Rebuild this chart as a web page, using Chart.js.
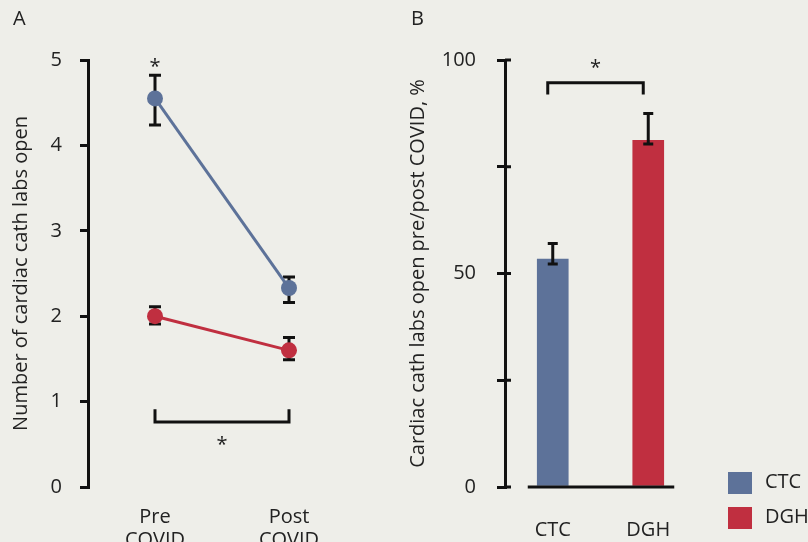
<!DOCTYPE html>
<html>
<head>
<meta charset="utf-8">
<script src="https://cdn.jsdelivr.net/npm/chart.js@4/dist/chart.umd.min.js"></script>
<style>
  html, body { margin: 0; padding: 0; background: #eeeee9; }
  #wrap { position: relative; width: 808px; height: 542px; background: #eeeee9; overflow: hidden;
    font-family: 'Open Sans', sans-serif; color: #222; }
  canvas { position: absolute; top: 0; }
  #chartA { left: 0; }
  #chartB { left: 400px; }
  .panel { position: absolute; font-size: 20px; line-height: 20px; }
  .legend { position: absolute; left: 728px; font-size: 20px; }
  .legend div { position: absolute; left: 0; white-space: nowrap; height: 22px; }
  .legend span.box { position: absolute; left: 0; top: 0; width: 24px; height: 22px; }
  .legend span.lbl { position: absolute; left: 37px; top: -3px; line-height: 24px; }
</style>
</head>
<body>
<div id="wrap">
  <canvas id="chartA" width="400" height="542"></canvas>
  <canvas id="chartB" width="408" height="542"></canvas>
  <div class="panel" style="left:13px;top:8px;">A</div>
  <div class="panel" style="left:411px;top:8px;">B</div>
  <div class="legend" id="legend"></div>
</div>
<script>
const periods = [['Pre', 'COVID'], ['Post', 'COVID']];
const ctcMean = [4.55, 2.33];
const ctcLow = [4.24, 2.16];
const ctcHigh = [4.82, 2.46];
const dghMean = [2.00, 1.60];
const dghLow = [1.91, 1.49];
const dghHigh = [2.11, 1.75];

const hospitals = ['CTC', 'DGH'];
const openPct = [53.4, 81.2];
const openPctLow = [52.2, 80.3];
const openPctHigh = [57.0, 87.5];

const blue = '#5d7299';
const red = '#c02f40';
const ink = '#111111';
const text = '#222222';

Chart.defaults.font.family = "'Open Sans', sans-serif";
Chart.defaults.color = text;

// error bars, drawn behind the points or on top of the bars
const makeErrorBars = (id, ranges, cap, behind) => {
  const draw = (chart) => {
    const { ctx, scales: { x, y } } = chart;
    ctx.save();
    ctx.strokeStyle = ink;
    ctx.lineWidth = 3;
    ranges.forEach((range) => {
      range.low.forEach((lo, i) => {
        const px = x.getPixelForValue(i);
        const y1 = y.getPixelForValue(lo);
        const y2 = y.getPixelForValue(range.high[i]);
        ctx.beginPath();
        ctx.moveTo(px, y1);
        ctx.lineTo(px, y2);
        ctx.moveTo(px - cap, y1);
        ctx.lineTo(px + cap, y1);
        ctx.moveTo(px - cap, y2);
        ctx.lineTo(px + cap, y2);
        ctx.stroke();
      });
    });
    ctx.restore();
  };
  return {
    id,
    beforeDatasetsDraw(chart) { if (behind) draw(chart); },
    afterDatasetsDraw(chart) { if (!behind) draw(chart); }
  };
};

// significance brackets and stars, placed in data units
const makeSignificance = (id, brackets, stars) => ({
  id,
  afterDraw(chart) {
    const { ctx, scales: { x, y } } = chart;
    ctx.save();
    ctx.strokeStyle = ink;
    ctx.lineWidth = 3;
    brackets.forEach((b) => {
      const x1 = x.getPixelForValue(b.from) + (b.shift || 0);
      const x2 = x.getPixelForValue(b.to) + (b.shift || 0);
      const yLeg = y.getPixelForValue(b.leg);
      const yBar = y.getPixelForValue(b.bar);
      ctx.beginPath();
      ctx.moveTo(x1, yLeg);
      ctx.lineTo(x1, yBar);
      ctx.lineTo(x2, yBar);
      ctx.lineTo(x2, yLeg);
      ctx.stroke();
    });
    ctx.fillStyle = text;
    ctx.font = "20px 'Open Sans', sans-serif";
    ctx.textAlign = 'center';
    ctx.textBaseline = 'alphabetic';
    stars.forEach((s) => {
      const px = x.getPixelForValue(s.at) + (s.shift || 0);
      const py = y.getPixelForValue(s.level);
      ctx.fillText('*', px, py + 11);
    });
    ctx.restore();
  }
});

// short stubs on the inner side of the y axis, plus the baseline under the bars
const axisExtrasB = {
  id: 'axisExtrasB',
  afterDatasetsDraw(chart) {
    const { ctx, scales: { x, y } } = chart;
    ctx.save();
    ctx.strokeStyle = ink;
    ctx.lineWidth = 3;
    y.ticks.forEach((t) => {
      const py = y.getPixelForValue(t.value);
      ctx.beginPath();
      ctx.moveTo(y.right, py);
      ctx.lineTo(y.right + 6, py);
      ctx.stroke();
    });
    const py0 = y.getPixelForValue(0);
    ctx.beginPath();
    ctx.moveTo(x.getPixelForValue(0) - 25, py0);
    ctx.lineTo(x.getPixelForValue(hospitals.length - 1) + 26, py0);
    ctx.stroke();
    ctx.restore();
  }
};

const yAxisBase = (width, titleText, titlePad) => ({
  afterFit(scale) { scale.width = width; },
  grid: {
    drawOnChartArea: false,
    drawTicks: true,
    tickLength: 8,
    color: ink,
    lineWidth: 3
  },
  border: { display: true, color: ink, width: 3 },
  title: {
    display: true,
    text: titleText,
    color: text,
    font: { size: 20 },
    padding: { top: titlePad, bottom: 0 }
  }
});

const chartA = new Chart(document.getElementById('chartA'), {
  type: 'line',
  plugins: [
    makeErrorBars('errorBarsA', [
      { low: ctcLow, high: ctcHigh },
      { low: dghLow, high: dghHigh }
    ], 6, true),
    makeSignificance('significanceA',
      [{ from: 0, to: 1, leg: 0.91, bar: 0.76 }],
      [{ at: 0, level: 4.98 }, { at: 0.5, level: 0.55 }])
  ],
  data: {
    labels: periods,
    datasets: [
      {
        label: 'CTC',
        data: ctcMean,
        borderColor: blue,
        backgroundColor: blue,
        borderWidth: 3,
        pointRadius: 8,
        pointBorderWidth: 0,
        pointBackgroundColor: blue,
        clip: false
      },
      {
        label: 'DGH',
        data: dghMean,
        borderColor: red,
        backgroundColor: red,
        borderWidth: 3,
        pointRadius: 8,
        pointBorderWidth: 0,
        pointBackgroundColor: red,
        clip: false
      }
    ]
  },
  options: {
    responsive: false,
    animation: false,
    devicePixelRatio: 1,
    layout: { padding: { top: 60, right: 44, bottom: 0, left: 0 } },
    plugins: {
      legend: { display: false },
      tooltip: { enabled: false }
    },
    scales: {
      x: {
        offset: true,
        afterFit(scale) { scale.height = 55; },
        grid: { display: false },
        border: { display: false },
        ticks: { color: text, padding: 11, font: { size: 20, lineHeight: 1.15 } }
      },
      y: {
        ...yAxisBase(88, 'Number of cardiac cath labs open', 9),
        min: 0,
        max: 5,
        ticks: { color: text, padding: 18, stepSize: 1, font: { size: 20 } }
      }
    }
  }
});

const chartB = new Chart(document.getElementById('chartB'), {
  type: 'bar',
  plugins: [
    axisExtrasB,
    makeErrorBars('errorBarsB', [{ low: openPctLow, high: openPctHigh }], 5, false),
    makeSignificance('significanceB',
      [{ from: 0, to: 1, leg: 91.9, bar: 94.7, shift: -5 }],
      [{ at: 0.5, level: 99.4, shift: -5 }])
  ],
  data: {
    labels: hospitals,
    datasets: [
      {
        label: 'Cardiac cath labs open',
        data: openPct,
        backgroundColor: [blue, red],
        borderWidth: 0,
        barThickness: 31
      }
    ]
  },
  options: {
    responsive: false,
    animation: false,
    devicePixelRatio: 1,
    layout: { padding: { top: 60, right: 112, bottom: 0, left: 0 } },
    plugins: {
      legend: { display: false },
      tooltip: { enabled: false }
    },
    scales: {
      x: {
        afterFit(scale) { scale.height = 55; },
        grid: { display: false },
        border: { display: false },
        ticks: { color: text, padding: 23, font: { size: 20 } }
      },
      y: {
        ...yAxisBase(105, 'Cardiac cath labs open pre/post COVID, %', 6),
        min: 0,
        max: 100,
        ticks: {
          color: text,
          padding: 21,
          stepSize: 25,
          font: { size: 20 },
          callback: (value) => (value % 50 === 0 ? value : '')
        }
      }
    }
  }
});

// legend squares built from the same categories and colours
const legendEl = document.getElementById('legend');
const legendColors = [blue, red];
const legendTops = [472, 507];
hospitals.forEach((name, i) => {
  const row = document.createElement('div');
  row.style.top = legendTops[i] + 'px';
  row.innerHTML = `<span class="box" style="background:${legendColors[i]}"></span><span class="lbl">${name}</span>`;
  legendEl.appendChild(row);
});
</script>
</body>
</html>
